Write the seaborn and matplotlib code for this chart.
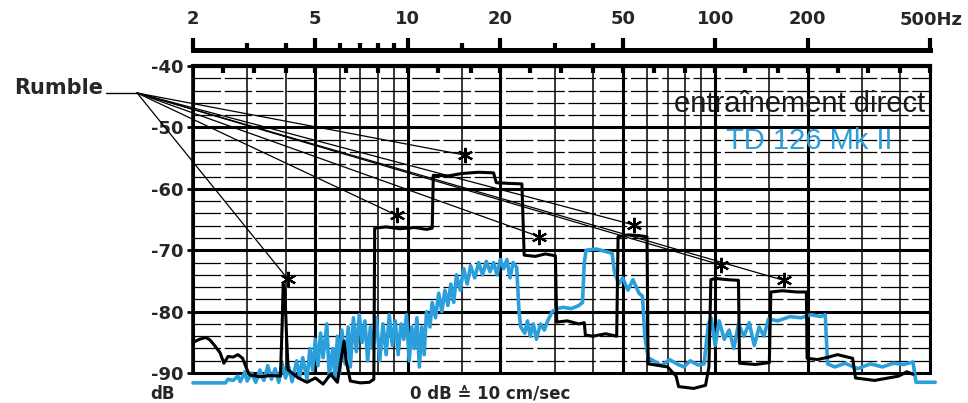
#!/usr/bin/env python
# -*- coding: utf-8 -*-

"""Rumble spectrum: direct drive reference vs TD 126 Mk II."""

import pandas as pd
import matplotlib.pyplot as plt
import seaborn as sns
from matplotlib.ticker import FixedLocator, NullFormatter, NullLocator

# black curve (entraînement direct), frequency in Hz / level in dB
direct_hz = [2.0, 2.1, 2.2, 2.27, 2.35, 2.45, 2.52, 2.6, 2.7, 2.8, 2.9, 3.0, 3.06,
             3.3, 3.6, 3.85, 3.9, 3.93, 3.98, 4.03, 4.08, 4.4, 4.7, 5.0, 5.3, 5.6,
             5.9, 6.1, 6.2, 6.3, 6.5, 7.0, 7.5, 7.75, 7.8, 8.5, 9.4, 10.5, 11.5,
             12.0, 12.1, 13.5, 15.0, 17.0, 19.0, 19.4, 21.0, 23.5, 23.9, 26.0,
             28.0, 30.2, 30.5, 33.0, 36.0, 37.5, 37.8, 40.0, 44.0, 47.8, 48.3,
             52.0, 56.0, 60.0, 60.5, 70.0, 74.6, 76.0, 85.0, 93.0, 95.4, 96.8,
             100.0, 110.0, 119.0, 120.0, 135.0, 150.0, 151.7, 165.0, 185.0,
             198.0, 199.0, 215.0, 234.0, 250.0, 280.0, 286.0, 330.0, 395.0,
             420.0, 440.0]
direct_db = [-85.0, -84.5, -84.2, -84.6, -85.5, -86.7, -88.4, -87.3, -87.4, -87.0,
             -87.6, -89.5, -90.3, -90.6, -90.4, -90.5, -82.0, -75.5, -76.5, -84.0,
             -89.5, -90.8, -91.5, -90.8, -91.8, -90.2, -91.5, -87.0, -84.8, -88.0,
             -91.3, -91.6, -91.5, -91.0, -66.4, -66.2, -66.5, -66.3, -66.6, -66.4,
             -57.8, -57.9, -57.5, -57.3, -57.4, -59.0, -59.1, -59.2, -70.8, -71.0,
             -70.6, -70.9, -81.7, -81.5, -82.0, -81.8, -83.8, -84.0, -83.6, -84.0,
             -67.8, -67.5, -67.6, -67.8, -88.5, -89.0, -90.5, -92.2, -92.5, -92.0,
             -89.0, -74.8, -74.6, -74.8, -74.9, -88.4, -88.6, -88.3, -76.8, -76.6,
             -76.8, -76.8, -87.6, -87.8, -87.4, -87.0, -87.6, -90.8, -91.2, -90.5,
             -89.8, -90.2]

# blue curve (TD 126 Mk II)
td126_hz = [2.0, 2.3, 2.55, 2.6, 2.7, 2.8, 2.85, 2.95, 3.0, 3.1, 3.2, 3.3, 3.4, 3.5,
            3.6, 3.7, 3.8, 3.9, 4.0, 4.1, 4.2, 4.35, 4.45, 4.55, 4.7, 4.8, 4.9,
            5.0, 5.1, 5.2, 5.3, 5.45, 5.55, 5.7, 5.8, 5.9, 6.0, 6.1, 6.25, 6.4,
            6.5, 6.65, 6.8, 6.95, 7.1, 7.25, 7.4, 7.55, 7.7, 7.9, 8.1, 8.3, 8.5,
            8.7, 8.9, 9.1, 9.3, 9.5, 9.7, 9.9, 10.1, 10.3, 10.5, 10.7, 10.9, 11.1,
            11.3, 11.5, 11.8, 12.0, 12.3, 12.6, 12.9, 13.2, 13.5, 13.8, 14.1,
            14.4, 14.8, 15.2, 15.6, 16.0, 16.5, 17.0, 17.5, 18.0, 18.5, 19.0,
            19.5, 20.0, 20.5, 21.0, 21.5, 22.0, 22.6, 23.0, 23.3, 24.0, 24.5,
            25.0, 25.6, 26.2, 27.0, 27.8, 28.5, 29.5, 30.5, 32.0, 34.0, 36.0,
            37.0, 37.5, 38.0, 41.0, 44.0, 46.2, 47.0, 48.5, 50.0, 52.0, 54.0,
            56.5, 58.0, 59.0, 60.5, 63.0, 67.0, 71.0, 75.0, 79.0, 83.0, 88.0,
            92.0, 95.0, 97.0, 100.0, 103.0, 107.0, 111.0, 115.0, 119.0, 124.0,
            129.0, 134.0, 139.0, 144.0, 149.0, 160.0, 175.0, 190.0, 205.0,
            220.0, 228.0, 232.0, 245.0, 265.0, 290.0, 320.0, 350.0, 380.0,
            410.0, 440.0, 450.0, 520.0]
td126_db = [-91.6, -91.6, -91.6, -91.0, -91.2, -90.5, -91.4, -89.8, -91.3, -90.0,
            -91.5, -89.5, -91.2, -88.8, -91.0, -89.3, -91.5, -88.5, -90.8, -89.0,
            -91.4, -88.0, -90.6, -87.5, -91.0, -86.0, -89.5, -84.5, -88.8, -83.5,
            -87.5, -82.0, -90.5, -86.0, -90.8, -84.0, -90.0, -83.0, -88.5, -82.5,
            -89.0, -81.0, -86.5, -80.5, -85.0, -81.5, -88.0, -82.5, -86.0, -81.0,
            -88.0, -82.0, -87.0, -80.5, -85.5, -81.5, -87.0, -82.0, -84.5, -80.5,
            -88.0, -82.5, -86.0, -81.0, -89.0, -82.5, -87.0, -80.0, -82.5, -78.5,
            -81.0, -77.0, -80.0, -76.5, -79.0, -75.5, -78.5, -74.0, -76.5, -73.0,
            -75.5, -72.5, -74.5, -72.0, -74.0, -71.8, -73.5, -72.0, -74.0, -71.5,
            -73.0, -71.5, -74.5, -72.0, -72.8, -80.0, -82.5, -83.5, -81.5, -84.0,
            -82.0, -84.5, -82.0, -83.0, -81.5, -80.0, -79.5, -79.3, -79.5, -79.0,
            -78.5, -72.0, -70.0, -69.8, -70.2, -70.5, -73.5, -75.5, -74.5, -76.5,
            -74.8, -77.0, -77.5, -84.0, -87.5, -88.0, -88.8, -87.8, -88.5, -89.0,
            -88.0, -88.7, -88.5, -82.0, -81.0, -85.5, -81.5, -84.5, -83.0, -86.0,
            -82.0, -84.0, -81.8, -85.5, -82.5, -84.0, -81.2, -81.5, -80.8, -81.0,
            -80.5, -80.8, -80.5, -88.5, -89.0, -88.4, -89.3, -88.5, -89.0, -88.4,
            -88.6, -88.2, -91.5, -91.5]

# rumble peaks marked with an asterisk
peak_hz = [4.07, 9.19, 15.3, 26.8, 54.5, 104.4, 167.0]
peak_db = [-74.7, -64.3, -54.5, -67.8, -65.9, -72.4, -74.9]

ruler_major = [2, 5, 10, 20, 50, 100, 200, 500]
ruler_labels = ['2', '5', '10', '20', '50', '100', '200', '']
ruler_minor = [3, 4, 6, 7, 8, 9, 15, 30, 40]
third_octave = [2.5, 3.15, 4, 5, 6.3, 8, 10, 12.5, 16, 20, 25, 31.5, 40, 50,
                63, 80, 100, 125, 160, 200, 250, 315, 400, 500]
grid_heavy_hz = [2, 5, 10, 20, 50, 100, 200, 500]
grid_light_hz = [3, 4, 6, 7, 8, 9, 15, 30, 40, 60, 70, 80, 90, 150, 300, 400]
db_major = [-40, -50, -60, -70, -80, -90]
db_labels = ['-40', '-50', '-60', '-70', '-80', '-90']
db_minor = [-42, -44, -46, -48, -52, -54, -56, -58, -62, -64, -66, -68,
            -72, -74, -76, -78, -82, -84, -86, -88]

BLUE = '#2a9fdc'
LABEL_FONT = ['DejaVu Sans']
NARROW_FONT = ['Liberation Sans Narrow', 'Liberation Sans', 'DejaVu Sans']

sns.set_theme(style='white')
plt.rcParams['font.family'] = LABEL_FONT

fig = plt.figure(figsize=(9.68, 4.03), dpi=100)
ax = fig.add_axes([0.1994, 0.0362, 0.7614, 0.80])

# grid
ax.hlines(db_minor, 2, 500, colors='black', linewidth=0.9, linestyles=(0, (22, 3)), zorder=1)
ax.hlines(db_major, 2, 500, colors='black', linewidth=2.2, zorder=1)
ax.vlines(grid_light_hz, -90, -40, colors='black', linewidth=1.1, zorder=1)
ax.vlines(grid_heavy_hz, -90, -40, colors='black', linewidth=2.2, zorder=1)

direct = pd.DataFrame({'hz': direct_hz, 'db': direct_db})
td126 = pd.DataFrame({'hz': td126_hz, 'db': td126_db})
sns.lineplot(data=td126, x='hz', y='db', ax=ax, color=BLUE, linewidth=2.6,
             estimator=None, sort=False, zorder=3, clip_on=False)
sns.lineplot(data=direct, x='hz', y='db', ax=ax, color='black', linewidth=2.2,
             estimator=None, sort=False, zorder=4, clip_on=False)

ax.set_xscale('log')
ax.set_xlim(2, 500)
ax.set_ylim(-92.5, -40)
ax.set_xlabel('')
ax.set_ylabel('')

# rumble leader lines from the label to every peak
origin_hz, origin_db = 1.316, -44.4
for hz, db in zip(peak_hz, peak_db):
    ax.plot([origin_hz, hz], [origin_db, db], color='black', linewidth=0.9,
            clip_on=False, zorder=2)
ax.plot([1.04, origin_hz], [origin_db, origin_db], color='black', linewidth=1.0, clip_on=False)
ax.plot(peak_hz, peak_db, linestyle='none', marker=(6, 2, 0), markersize=11,
        markeredgewidth=1.6, color='black', zorder=5, clip_on=False)

# frame and small band marks hanging from the top edge
ax.spines['bottom'].set_visible(False)
ax.spines['top'].set_linewidth(3.0)
ax.spines['left'].set_linewidth(2.6)
ax.spines['left'].set_bounds(-90, -40)
ax.spines['right'].set_linewidth(2.2)
ax.spines['right'].set_bounds(-90, -40)
for s in ax.spines.values():
    s.set_color('black')

ax.set_xticks(third_octave)
ax.xaxis.set_minor_locator(NullLocator())
ax.tick_params(axis='x', which='major', top=True, bottom=False, direction='in',
               length=5, width=3, color='black', labelbottom=False, labeltop=False)
ax.set_yticks(db_major, labels=db_labels)
ax.yaxis.set_minor_locator(NullLocator())
ax.tick_params(axis='y', left=True, direction='out', length=4, width=2,
               color='black', pad=3, labelsize=13)
for lbl in ax.get_yticklabels():
    lbl.set_fontweight('bold')

# frequency ruler above the chart
sec = ax.secondary_xaxis(1.05)
sec.set_xticks(ruler_major, labels=ruler_labels)
sec.xaxis.set_minor_locator(FixedLocator(ruler_minor))
sec.xaxis.set_minor_formatter(NullFormatter())
sec.tick_params(axis='x', which='major', direction='out', length=9, width=3,
                pad=7, labelsize=13, color='black')
sec.tick_params(axis='x', which='minor', direction='out', length=5, width=3, color='black')
for lbl in sec.get_xticklabels():
    lbl.set_fontweight('bold')
for s in sec.spines.values():
    s.set_linewidth(3.6)
    s.set_color('black')

fig.text(0.929, 1 - 20 / 403, '500Hz', fontsize=13, fontweight='bold', va='center', ha='left')
fig.text(0.107, 1 - 88 / 403, 'Rumble', fontsize=15, fontweight='bold', va='center', ha='right')
fig.text(0.181, 1 - 394 / 403, 'dB', fontsize=12, fontweight='bold', va='center', ha='right')
fig.text(0.506, 1 - 393 / 403, '0 dB \u2259 10 cm/sec', fontsize=12, fontweight='bold',
         va='center', ha='center')

fig.text(0.956, 1 - 104 / 403, 'entraînement direct', fontsize=21, family=NARROW_FONT,
         va='center', ha='right', color='#1a1a1a')
fig.text(0.922, 1 - 141 / 403, 'TD 126 Mk II', fontsize=21, family=NARROW_FONT,
         va='center', ha='right', color=BLUE)

fig.savefig('out.png', dpi=100, facecolor='white')
